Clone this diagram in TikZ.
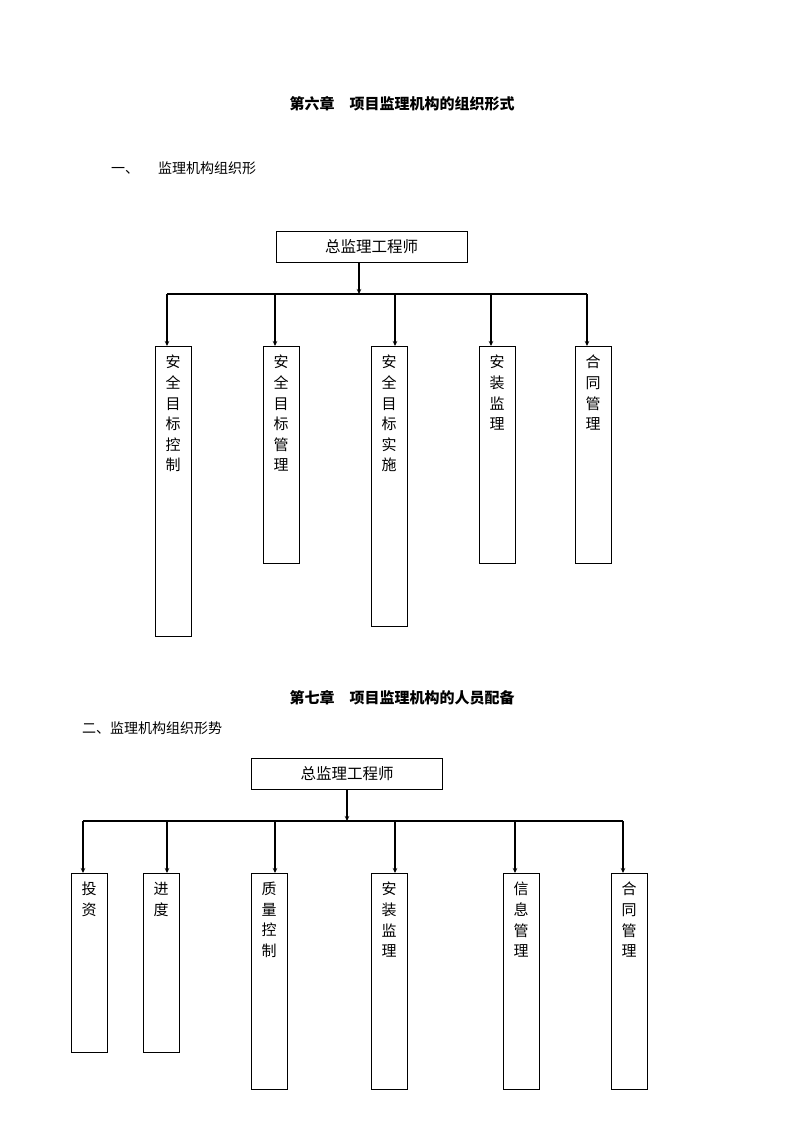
\documentclass[tikz,border=0pt]{standalone}
\usepackage{fontspec}
\setmainfont{Noto Sans CJK SC}
\usetikzlibrary{arrows.meta,positioning}

\tikzset{
  box/.style={draw, line width=0.9pt, inner sep=0pt},
  chief/.style={box, minimum width=191pt, minimum height=31pt, font=\fontsize{15.5}{18}\selectfont},
  vbox/.style={box, anchor=north, minimum width=36pt},
  vtext/.style={align=center, inner sep=0pt, font=\fontsize{15}{20.6}\selectfont},
  heading/.style={font=\fontsize{15}{18}\selectfont\bfseries},
  para/.style={anchor=west, inner sep=0pt, font=\fontsize{14}{17}\selectfont},
  bar/.style={line width=1.2pt},
  drop/.style={line width=1.8pt, -{Stealth[length=5pt,width=4.5pt]}},
}

\begin{document}
\begin{tikzpicture}[x=1pt,y=-1pt]
  \useasboundingbox (0,0) rectangle (794,1123);

  % chapter six
  \node[heading] (ch6) at (402,104) {第六章　项目监理机构的组织形式};
  \node[para] (sec1) at (111,168) {一、\hspace{19pt}监理机构组织形};

  \node[chief] (top1) at (371.5,246.5) {总监理工程师};
  \coordinate (j1) at (359,294);
  \coordinate (d11) at (167,294);
  \coordinate (d12) at (275,294);
  \coordinate (d13) at (395,294);
  \coordinate (d14) at (491,294);
  \coordinate (d15) at (587,294);

  \node[vbox, minimum height=290pt] (s1) at (173,346) {};
  \node[vbox, minimum height=217pt] (s2) at (281,346) {};
  \node[vbox, minimum height=280pt] (s3) at (389,346) {};
  \node[vbox, minimum height=217pt] (s4) at (497,346) {};
  \node[vbox, minimum height=217pt] (s5) at (593,346) {};
  \node[vtext, below=9pt of s1.north] (t1) {安\\全\\目\\标\\控\\制};
  \node[vtext, below=9pt of s2.north] (t2) {安\\全\\目\\标\\管\\理};
  \node[vtext, below=9pt of s3.north] (t3) {安\\全\\目\\标\\实\\施};
  \node[vtext, below=9pt of s4.north] (t4) {安\\装\\监\\理};
  \node[vtext, below=9pt of s5.north] (t5) {合\\同\\管\\理};

  \draw[drop] (j1 |- top1.south) -- (j1);
  \draw[bar] (d11) -- (d15);
  \draw[drop] (d11) -- (d11 |- s1.north);
  \draw[drop] (d12) -- (d12 |- s2.north);
  \draw[drop] (d13) -- (d13 |- s3.north);
  \draw[drop] (d14) -- (d14 |- s4.north);
  \draw[drop] (d15) -- (d15 |- s5.north);

  % chapter seven
  \node[heading] (ch7) at (402,698) {第七章　项目监理机构的人员配备};
  \node[para] (sec2) at (82,728) {二、监理机构组织形势};

  \node[chief] (top2) at (347,773.5) {总监理工程师};
  \coordinate (j2) at (347,821);
  \coordinate (d21) at (83,821);
  \coordinate (d22) at (167,821);
  \coordinate (d23) at (275,821);
  \coordinate (d24) at (395,821);
  \coordinate (d25) at (515,821);
  \coordinate (d26) at (623,821);

  \node[vbox, minimum height=179pt] (p1) at (89,873) {};
  \node[vbox, minimum height=179pt] (p2) at (161,873) {};
  \node[vbox, minimum height=216pt] (p3) at (269,873) {};
  \node[vbox, minimum height=216pt] (p4) at (389,873) {};
  \node[vbox, minimum height=216pt] (p5) at (521,873) {};
  \node[vbox, minimum height=216pt] (p6) at (629,873) {};
  \node[vtext, below=9pt of p1.north] (q1) {投\\资};
  \node[vtext, below=9pt of p2.north] (q2) {进\\度};
  \node[vtext, below=9pt of p3.north] (q3) {质\\量\\控\\制};
  \node[vtext, below=9pt of p4.north] (q4) {安\\装\\监\\理};
  \node[vtext, below=9pt of p5.north] (q5) {信\\息\\管\\理};
  \node[vtext, below=9pt of p6.north] (q6) {合\\同\\管\\理};

  \draw[drop] (j2 |- top2.south) -- (j2);
  \draw[bar] (d21) -- (d26);
  \draw[drop] (d21) -- (d21 |- p1.north);
  \draw[drop] (d22) -- (d22 |- p2.north);
  \draw[drop] (d23) -- (d23 |- p3.north);
  \draw[drop] (d24) -- (d24 |- p4.north);
  \draw[drop] (d25) -- (d25 |- p5.north);
  \draw[drop] (d26) -- (d26 |- p6.north);
\end{tikzpicture}
\end{document}
